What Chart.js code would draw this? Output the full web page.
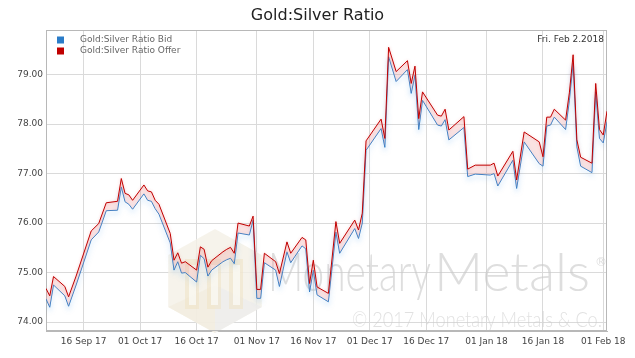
<!DOCTYPE html>
<html><head><meta charset="utf-8">
<script src="https://cdn.jsdelivr.net/npm/chart.js@4.4.1/dist/chart.umd.min.js"></script>
<style>html,body{margin:0;padding:0;background:#fff;overflow:hidden}</style>
</head><body>
<canvas id="c" width="635" height="358"></canvas>
<script>
const chartTitle = 'Gold:Silver Ratio';
const seriesNames = ['Gold:Silver Ratio Bid', 'Gold:Silver Ratio Offer'];
const dateStamp = 'Fri. Feb 2.2018';
const watermarkA = 'Monetary';
const watermarkB = 'Metals';
const copyrightText = '\u00A9 2017 Monetary Metals & Co.';

const dates = ['2017-09-06','2017-09-07','2017-09-08','2017-09-11','2017-09-12','2017-09-14','2017-09-18','2017-09-20','2017-09-22','2017-09-25','2017-09-26','2017-09-27','2017-09-28','2017-09-29','2017-10-02','2017-10-03','2017-10-04','2017-10-05','2017-10-06','2017-10-09','2017-10-10','2017-10-11','2017-10-12','2017-10-13','2017-10-16','2017-10-17','2017-10-18','2017-10-19','2017-10-20','2017-10-23','2017-10-24','2017-10-25','2017-10-26','2017-10-27','2017-10-30','2017-10-31','2017-11-01','2017-11-02','2017-11-03','2017-11-06','2017-11-07','2017-11-09','2017-11-10','2017-11-13','2017-11-14','2017-11-15','2017-11-16','2017-11-17','2017-11-20','2017-11-22','2017-11-23','2017-11-27','2017-11-28','2017-11-29','2017-11-30','2017-12-04','2017-12-05','2017-12-06','2017-12-08','2017-12-11','2017-12-12','2017-12-13','2017-12-14','2017-12-15','2017-12-19','2017-12-20','2017-12-21','2017-12-22','2017-12-26','2017-12-27','2017-12-29','2018-01-02','2018-01-03','2018-01-04','2018-01-08','2018-01-09','2018-01-11','2018-01-15','2018-01-16','2018-01-17','2018-01-18','2018-01-19','2018-01-22','2018-01-23','2018-01-24','2018-01-25','2018-01-26','2018-01-29','2018-01-30','2018-01-31','2018-02-01','2018-02-02'];

const offer = [74.68,74.53,74.92,74.72,74.51,74.93,75.84,75.99,76.41,76.44,76.90,76.60,76.57,76.46,76.77,76.65,76.63,76.46,76.38,75.79,75.25,75.40,75.19,75.22,75.05,75.52,75.47,75.11,75.24,75.42,75.47,75.51,75.39,76.00,75.94,76.14,74.66,74.66,75.39,75.22,74.98,75.62,75.39,75.71,75.66,74.78,75.25,74.71,74.58,76.03,75.59,76.06,75.86,76.20,77.66,78.10,77.71,79.55,79.06,79.28,78.82,79.17,78.11,78.65,78.18,78.16,78.30,77.88,78.15,77.09,77.17,77.17,77.21,76.95,77.45,76.87,77.84,77.64,77.34,78.14,78.14,78.30,78.08,78.63,79.40,77.68,77.33,77.21,78.82,77.89,77.78,78.26];

const bid = [74.47,74.30,74.75,74.53,74.32,74.75,75.66,75.82,76.25,76.26,76.73,76.43,76.38,76.28,76.59,76.46,76.44,76.29,76.18,75.60,75.05,75.22,74.99,75.00,74.81,75.35,75.28,74.93,75.05,75.22,75.26,75.29,75.18,75.80,75.76,76.06,74.48,74.48,75.20,75.05,74.72,75.42,75.20,75.54,75.48,74.61,75.05,74.55,74.41,75.82,75.39,75.89,75.69,76.00,77.47,77.91,77.53,79.36,78.86,79.10,78.62,78.99,77.89,78.48,77.98,77.96,78.09,77.68,77.93,76.94,76.99,76.97,77.00,76.75,77.27,76.70,77.64,77.20,77.15,77.96,77.98,78.14,77.89,78.47,79.23,77.54,77.15,77.02,78.65,77.71,77.62,78.05];

const xTickDates = ['2017-09-16','2017-10-01','2017-10-16','2017-11-01','2017-11-16','2017-12-01','2017-12-16','2018-01-01','2018-01-16','2018-02-01'];
const xTickLabels = ['16 Sep 17','01 Oct 17','16 Oct 17','01 Nov 17','16 Nov 17','01 Dec 17','16 Dec 17','01 Jan 18','16 Jan 18','01 Feb 18'];
const yTicks = [74, 75, 76, 77, 78, 79];

function dayNum(s) { const p = s.split('-').map(Number); return Date.UTC(p[0], p[1] - 1, p[2]) / 86400000; }

const FONT = 'DejaVu Sans';
const RED = '#c00000';
const BLUE = '#2a7cc8';

const decorPlugin = {
  id: 'decor',
  beforeDatasetsDraw(chart) {
    const ctx = chart.ctx, a = chart.chartArea;
    ctx.save();
    // logo (cube)
    const cx = 215, cy = 281, r = 52;
    const top = [cx, cy - r], ur = [cx + r * 0.9, cy - r / 2], lr = [cx + r * 0.9, cy + r / 2],
          bot = [cx, cy + r], ll = [cx - r * 0.9, cy + r / 2], ul = [cx - r * 0.9, cy - r / 2];
    function poly(pts, fill) { ctx.beginPath(); ctx.moveTo(pts[0][0], pts[0][1]); for (let i = 1; i < pts.length; i++) ctx.lineTo(pts[i][0], pts[i][1]); ctx.closePath(); ctx.fillStyle = fill; ctx.fill(); }
    poly([top, ur, lr, bot, ll, ul], 'rgba(244,240,230,0.8)');
    poly([[cx, cy + 4], lr, bot], 'rgba(236,236,236,0.7)');
    poly([[cx, cy + 4], bot, ll], 'rgba(242,236,222,0.7)');
    ctx.fillStyle = 'rgba(238,226,196,0.55)';
    [[-30, 14], [-8, 14], [14, 14]].forEach(([dx, w]) => { ctx.fillRect(cx + dx, cy - 22, w, 50); });
    ctx.fillStyle = 'rgba(250,248,242,0.9)';
    ctx.fillRect(cx - 26, cy - 16, 7, 40);
    ctx.fillRect(cx - 4, cy - 16, 7, 40);
    ctx.fillRect(cx + 18, cy - 16, 7, 40);
    // big text
    ctx.textBaseline = 'alphabetic';
    ctx.fillStyle = 'rgba(200,200,200,0.6)';
    function fitText(t, x, y, w, font) {
      ctx.font = font; const m = ctx.measureText(t).width;
      ctx.save(); ctx.translate(x, y); ctx.scale(w / m, 1); ctx.fillText(t, 0, 0); ctx.restore();
    }
    fitText(watermarkA, 268, 291, 163, '300 54px Lato');
    fitText(watermarkB, 434, 291, 156, '300 54px Lato');
    ctx.font = '12px ' + FONT; ctx.fillText('\u00AE', 595, 266);
    ctx.fillStyle = 'rgba(205,205,205,0.6)';
    fitText(copyrightText, 352, 327, 250, '300 21px Lato');
    // border box
    ctx.strokeStyle = '#b8b8b8'; ctx.lineWidth = 1;
    ctx.strokeRect(Math.round(a.left) + 0.5, Math.round(a.top) + 0.5, Math.round(a.right - a.left) - 1, Math.round(a.bottom - a.top) - 1);
    ctx.restore();
  },
  beforeDatasetDraw(chart, args) {
    const ctx = chart.ctx;
    ctx.save();
    if (args.index === 1) { ctx.shadowColor = 'rgba(80,160,235,0.5)'; ctx.shadowBlur = 5; ctx.shadowOffsetY = 3; }
    else { ctx.shadowColor = 'rgba(240,120,120,0.45)'; ctx.shadowBlur = 3; ctx.shadowOffsetY = 0; }
  },
  afterDatasetDraw(chart) { chart.ctx.restore(); },
  afterDatasetsDraw(chart) {
    const ctx = chart.ctx, a = chart.chartArea;
    ctx.save();
    ctx.font = '9px ' + FONT; ctx.textBaseline = 'middle';
    const items = [[BLUE, seriesNames[0], 40], [RED, seriesNames[1], 51]];
    items.forEach(([c, t, y]) => {
      ctx.fillStyle = c; ctx.fillRect(57, y - 3.5, 7, 7);
      ctx.fillStyle = '#666'; ctx.textAlign = 'left'; ctx.fillText(t, 80, y);
    });
    ctx.fillStyle = '#333'; ctx.textAlign = 'right'; ctx.fillText(dateStamp, a.right - 3, 40);
    ctx.restore();
  }
};

const xs = dates.map(dayNum);
new Chart(document.getElementById('c'), {
  type: 'line',
  data: {
    datasets: [
      { label: seriesNames[1], data: xs.map((x, i) => ({ x, y: offer[i] })), borderColor: RED, borderWidth: 1,
        pointRadius: 0, tension: 0, fill: '+1', backgroundColor: 'rgba(238,150,150,0.28)' },
      { label: seriesNames[0], data: xs.map((x, i) => ({ x, y: bid[i] })), borderColor: BLUE, borderWidth: 1,
        pointRadius: 0, tension: 0, fill: false }
    ]
  },
  options: {
    responsive: false, animation: false, devicePixelRatio: 1, events: [],
    layout: { padding: { left: 0, right: 0, top: 0, bottom: 0 } },
    plugins: {
      legend: { display: false }, tooltip: { enabled: false },
      title: { display: true, text: chartTitle, color: '#222', font: { family: FONT, size: 16, weight: 'normal' }, padding: { top: 6, bottom: 4.8 } }
    },
    scales: {
      x: {
        type: 'linear', min: xs[0], max: xs[xs.length - 1],
        grid: { color: '#dadada', drawTicks: false },
        border: { display: true, color: '#b8b8b8' },
        afterBuildTicks: (s) => { s.ticks = xTickDates.map(d => ({ value: dayNum(d) })); },
        afterFit: (s) => { s.height = 27; },
        ticks: { autoSkip: false, maxRotation: 0, padding: 5, color: '#444', font: { family: FONT, size: 9 },
                 callback: (v, i) => xTickLabels[i] }
      },
      y: {
        min: 73.82, max: 79.9,
        grid: { color: '#dadada', drawTicks: false },
        border: { display: true, color: '#b8b8b8' },
        afterBuildTicks: (s) => { s.ticks = yTicks.map(v => ({ value: v })); },
        afterFit: (s) => { s.width = 46; },
        ticks: { padding: 3, color: '#444', font: { family: FONT, size: 9 }, callback: (v) => Number(v).toFixed(2) }
      },
      yRight: {
        position: 'right', display: true, min: 73.82, max: 79.9,
        grid: { display: false, drawTicks: false }, border: { display: false },
        ticks: { display: false },
        afterFit: (s) => { s.width = 28; }
      }
    }
  },
  plugins: [decorPlugin]
});
</script>
</body></html>
